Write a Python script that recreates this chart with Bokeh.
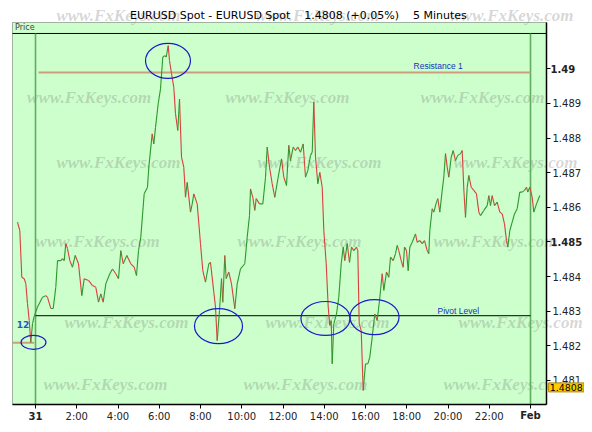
from bokeh.plotting import figure
from bokeh.models import (Range1d, ColumnDataSource, Label, FixedTicker, LinearAxis,
                          BoxAnnotation)
from bokeh.embed import file_html
from bokeh.resources import INLINE

# ---------------- data (hours after 31 Jan 00:00, EURUSD price) ----------------
hours = [-0.873,-0.761,-0.664,-0.548,-0.470,-0.388,-0.305,-0.228,-0.145,-0.063,
         0.097,0.339,0.499,0.582,0.742,0.858,0.984,1.067,1.227,1.309,
         1.392,1.469,1.552,1.663,1.794,1.925,2.085,2.245,2.361,2.570,
         2.764,2.924,3.055,3.166,3.282,3.408,3.602,3.733,3.893,4.024,
         4.136,4.252,4.427,4.621,4.785,4.897,4.994,5.105,5.270,5.430,
         5.493,5.658,5.736,5.818,5.949,6.061,6.172,6.269,6.337,6.434,
         6.497,6.594,6.705,6.788,6.899,6.982,7.079,7.190,7.273,7.355,
         7.515,7.598,7.675,7.840,8.000,8.112,8.242,8.403,8.485,8.645,
         8.727,8.809,8.921,9.018,9.081,9.178,9.246,9.372,9.503,9.663,
         9.779,9.939,10.148,10.264,10.376,10.424,10.536,10.633,10.700,10.861,
         11.021,11.152,11.234,11.345,11.476,11.603,11.767,11.927,12.039,12.170,
         12.281,12.364,12.494,12.606,12.718,12.848,12.979,13.091,13.202,13.333,
         13.416,13.494,13.576,13.688,13.785,13.901,13.979,14.095,14.192,14.269,
         14.337,14.385,14.463,14.594,14.705,14.822,14.919,14.996,15.113,15.224,
         15.321,15.433,15.564,15.627,15.695,15.792,15.888,16.000,16.112,16.209,
         16.325,16.451,16.567,16.679,16.810,16.888,17.018,17.130,17.212,17.343,
         17.455,17.537,17.615,17.731,17.828,17.891,17.988,18.070,18.148,18.264,
         18.424,18.507,18.633,18.749,18.861,18.992,19.069,19.118,19.234,19.312,
         19.442,19.506,19.603,19.719,19.797,19.879,19.961,20.039,20.155,20.252,
         20.364,20.475,20.606,20.688,20.766,20.848,20.931,21.008,21.125,21.251,
         21.382,21.494,21.576,21.736,21.901,21.979,22.061,22.143,22.255,22.385,
         22.512,22.628,22.739,22.836,22.900,22.997,23.113,23.224,23.355,23.481,
         23.598,23.709,23.806,23.869,23.966,24.082,24.160,24.291,24.451]

prices = [1.48557,1.48533,1.48398,1.48394,1.48380,1.48322,1.48273,1.48210,1.48264,1.48285,
          1.48312,1.48340,1.48345,1.48340,1.48308,1.48308,1.48369,1.48446,1.48446,1.48452,
          1.48446,1.48495,1.48481,1.48446,1.48427,1.48461,1.48437,1.48345,1.48394,1.48389,
          1.48374,1.48369,1.48326,1.48350,1.48326,1.48379,1.48408,1.48422,1.48408,1.48394,
          1.48475,1.48437,1.48461,1.48437,1.48427,1.48403,1.48475,1.48514,1.48639,1.48658,
          1.48716,1.48812,1.48783,1.48831,1.48899,1.48942,1.49034,1.49038,1.49034,1.49067,
          1.49024,1.48986,1.48947,1.48870,1.48822,1.48913,1.48745,1.48716,1.48629,1.48672,
          1.48586,1.48610,1.48639,1.48610,1.48495,1.48417,1.48384,1.48437,1.48441,1.48355,
          1.48312,1.48215,1.48302,1.48394,1.48326,1.48461,1.48394,1.48413,1.48379,1.48307,
          1.48379,1.48422,1.48437,1.48514,1.48576,1.48653,1.48629,1.48591,1.48625,1.48610,
          1.48610,1.48687,1.48774,1.48716,1.48668,1.48629,1.48687,1.48740,1.48687,1.48663,
          1.48779,1.48735,1.48774,1.48764,1.48774,1.48759,1.48783,1.48687,1.48706,1.48750,
          1.48759,1.48904,1.48745,1.48668,1.48701,1.48658,1.48533,1.48437,1.48312,1.48259,
          1.48273,1.48148,1.48264,1.48292,1.48340,1.48437,1.48485,1.48446,1.48495,1.48441,
          1.48485,1.48475,1.48485,1.48475,1.48264,1.48244,1.48071,1.48148,1.48148,1.48167,
          1.48225,1.48292,1.48273,1.48331,1.48408,1.48360,1.48413,1.48398,1.48456,1.48446,
          1.48466,1.48490,1.48475,1.48446,1.48427,1.48485,1.48475,1.48417,1.48485,1.48499,
          1.48523,1.48499,1.48504,1.48495,1.48504,1.48475,1.48466,1.48533,1.48596,1.48586,
          1.48615,1.48625,1.48586,1.48649,1.48687,1.48755,1.48716,1.48687,1.48745,1.48764,
          1.48735,1.48750,1.48755,1.48764,1.48653,1.48571,1.48658,1.48692,1.48658,1.48649,
          1.48639,1.48586,1.48576,1.48591,1.48605,1.48634,1.48605,1.48634,1.48605,1.48615,
          1.48586,1.48581,1.48552,1.48504,1.48485,1.48533,1.48557,1.48581,1.48596,1.48644,
          1.48644,1.48649,1.48658,1.48644,1.48658,1.48629,1.48586,1.48610,1.48634]

x_ticks = [0, 2, 4, 6, 8, 10, 12, 14, 16, 18, 20, 22, 24]
x_tick_labels = ["31", "2:00", "4:00", "6:00", "8:00", "10:00", "12:00",
                 "14:00", "16:00", "18:00", "20:00", "22:00", "Feb"]
bold_x_ticks = [0, 24]
y_ticks = [1.481, 1.482, 1.483, 1.484, 1.485, 1.486, 1.487, 1.488, 1.489, 1.49]
bold_y_ticks = [1.485, 1.49]

day_breaks = [0, 24]
resistance_1 = 1.48989
resistance_start = 0.145
pivot_level = 1.48287
prev_pivot = 1.48209
last_price = 1.4808
SP = "\u00a0"
title_text = ("EURUSD Spot - EURUSD Spot" + SP * 4 + "1.4808 (+0.05%)" + SP * 4 + "5 Minutes")

# highlighted areas (centre hour, centre price, width hours, height price)
ell_x = [6.424, 8.873, 14.06, 16.436, -0.097]
ell_y = [1.49023, 1.48257, 1.48279, 1.48283, 1.48210]
ell_w = [2.18, 2.33, 2.38, 2.38, 1.21]
ell_h = [0.00101, 0.00101, 0.00098, 0.00101, 0.00040]

# ---------------- layout ----------------
# whole canvas is the frame; the chart box sits inside it
CX0, CX1 = -1.69697, 26.61818          # canvas extent in hours
CY0, CY1 = 1.4797284, 1.4919723        # canvas extent in price
X0, X1 = -1.115, 24.776                # chart box
Y0, Y1 = 1.480307, 1.491337
BAND = 1.49102
FONT = "DejaVu Sans"

p = figure(width=584, height=424, x_range=Range1d(CX0, CX1), y_range=Range1d(CY0, CY1),
           output_backend="svg", toolbar_location=None, title=None,
           x_axis_location=None, y_axis_location=None,
           min_border_left=0, min_border_right=0, min_border_top=0, min_border_bottom=0,
           background_fill_color="white", border_fill_color="white",
           outline_line_color=None)
p.grid.visible = False

p.add_layout(BoxAnnotation(left=X0, right=X1, bottom=Y0, top=Y1, fill_color="#ccffcc",
                           fill_alpha=1, line_color="black", line_width=1, level="underlay"))

# axes fixed at the chart box edges
xax = LinearAxis(fixed_location=Y0, bounds=(X0, X1), ticker=FixedTicker(ticks=x_ticks))
ov = {t: lab for t, lab in zip(x_ticks, x_tick_labels)}
for t in bold_x_ticks:
    ov[t] = ""
xax.major_label_overrides = ov
yax = LinearAxis(fixed_location=X1, bounds=(Y0, Y1), ticker=FixedTicker(ticks=y_ticks))
yax.major_label_overrides = {t: "" for t in bold_y_ticks}
for ax in (xax, yax):
    ax.axis_line_color = "black"
    ax.axis_line_width = 1.5
    ax.major_tick_line_color = "black"
    ax.major_tick_out = 4
    ax.major_tick_in = 0
    ax.minor_tick_out = 0
    ax.minor_tick_in = 0
    ax.major_label_text_font = FONT
    ax.major_label_text_font_size = "10px"
    ax.major_label_text_color = "#222222"
xax.major_label_standoff = 3
yax.major_label_standoff = 2
p.add_layout(xax, "below")
p.add_layout(yax, "right")

# watermarks
wm_rows = [(1.491539, [4.02, 13.67, 23.08]), (1.489171, [2.60, 12.22, 21.67]),
           (1.487294, [4.02, 13.77, 23.27]), (1.485012, [3.01, 12.80, 22.30]),
           (1.482673, [4.41, 14.16, 23.52]), (1.480882, [3.39, 13.09, 22.79])]
for wy, wxs in wm_rows:
    for wx in wxs:
        p.add_layout(Label(x=wx, y=wy, text="www.FxKeys.com", text_align="center",
                           text_baseline="middle", text_font="Liberation Serif",
                           text_font_style="bold italic", text_font_size="17px",
                           text_color="#808080", text_alpha=0.33, level="underlay"))

# band line and day separators
p.segment(x0=[X0], y0=[BAND], x1=[X1], y1=[BAND], line_color="black", line_width=1)
p.segment(x0=day_breaks, y0=[Y0] * len(day_breaks), x1=day_breaks, y1=[BAND] * len(day_breaks),
          line_color="#5fae5f", line_width=1.6)

# reference levels
p.segment(x0=[resistance_start], y0=[resistance_1], x1=[day_breaks[1]], y1=[resistance_1],
          line_color="#cc9f7a", line_width=2)
p.segment(x0=[day_breaks[0]], y0=[pivot_level], x1=[day_breaks[1]], y1=[pivot_level],
          line_color="black", line_width=1)
p.segment(x0=[X0], y0=[prev_pivot], x1=[hours[9]], y1=[prev_pivot],
          line_color="#cc9f7a", line_width=2)

# price line, coloured by direction
cols = ["#2a9a2a" if b >= a else "#d84040" for a, b in zip(prices[:-1], prices[1:])]
src = ColumnDataSource(dict(x0=hours[:-1], y0=prices[:-1], x1=hours[1:], y1=prices[1:], c=cols))
p.segment(x0="x0", y0="y0", x1="x1", y1="y1", line_color="c", line_width=1.1, source=src)

# ellipses
p.ellipse(x=ell_x, y=ell_y, width=ell_w, height=ell_h, fill_color=None,
          line_color="#1a1acc", line_width=1.2)

# texts
p.add_layout(Label(x=12.75, y=1.491539, text=title_text, text_align="center",
                   text_baseline="middle", text_font=FONT, text_font_size="11px",
                   text_color="black"))
p.add_layout(Label(x=-0.99, y=1.49118, text="Price", text_align="left",
                   text_baseline="middle", text_font=FONT, text_font_size="8px",
                   text_color="#444444"))
p.add_layout(Label(x=-0.606, y=1.48263, text="12", text_align="center",
                   text_baseline="middle", text_font=FONT, text_font_size="9px",
                   text_font_style="bold", text_color="#2255cc"))
p.add_layout(Label(x=18.33, y=1.49008, text="Resistance 1", text_align="left",
                   text_baseline="middle", text_font="Liberation Sans", text_font_size="8.5px",
                   text_color="#1133bb"))
p.add_layout(Label(x=19.49, y=1.48302, text="Pivot Level", text_align="left",
                   text_baseline="middle", text_font="Liberation Sans", text_font_size="8.5px",
                   text_color="#1133bb"))

# bold tick labels
for t in bold_x_ticks:
    p.add_layout(Label(x=t, y=1.479988, text=x_tick_labels[x_ticks.index(t)], text_align="center",
                       text_baseline="middle", text_font=FONT, text_font_size="10px",
                       text_font_style="bold", text_color="#222222"))
for t in bold_y_ticks:
    p.add_layout(Label(x=24.97, y=t, text=("%g" % t), text_align="left",
                       text_baseline="middle", text_font=FONT, text_font_size="10px",
                       text_font_style="bold", text_color="#222222"))

# last price box
p.add_layout(Label(x=24.88, y=last_price, text="%.4f" % last_price, text_align="left",
                   text_baseline="middle", text_font=FONT, text_font_size="9.5px",
                   text_color="black", background_fill_color="#ffcc00",
                   border_line_color="#b08a00", padding=1))

open("out.html", "w").write(file_html(p, INLINE))
